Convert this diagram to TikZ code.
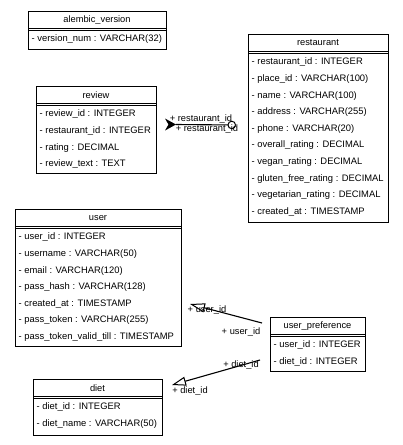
\documentclass[tikz,border=0pt]{standalone}
\usepackage{fontspec}
\setmainfont{Liberation Sans}
\usetikzlibrary{arrows.meta}
\begin{document}
\begin{tikzpicture}[x=1pt,y=-1pt,
  tbl/.style={draw, line width=1.1pt, rectangle, anchor=north west, inner sep=0pt},
  hdr/.style={font=\fontsize{9.3}{11}\selectfont, inner sep=0pt},
  fld/.style={font=\fontsize{9.4}{11}\selectfont, inner sep=0pt, anchor=west},
  lbl/.style={font=\fontsize{9.3}{11}\selectfont, inner sep=0pt},
  conn/.style={line width=1.1pt},
  sep/.style={line width=0.9pt}]
\useasboundingbox (0,0) rectangle (403,445);

% table: name, left, top, width, height, title, fields
\def\Tbl#1#2#3#4#5#6#7{%
  \node[tbl, minimum width=#4pt, minimum height=#5pt] (#1) at (#2,#3) {};
  \node[hdr] (#1-h) at (#2+#4/2,#3+9) {#6};
  \draw[sep] (#2,#3+17) -- ++(#4,0);
  \draw[sep] (#2,#3+19.5) -- ++(#4,0);
  \foreach \f [count=\i] in {#7} {
    \node[fld] (#1-\i) at (#2+3.5, #3+28.5+16.6*\i-16.6) {- \f};
  }%
}

\Tbl{alembic}{28}{11}{138}{38}{alembic\_version}%
  {version\_num : VARCHAR(32)}
\Tbl{review}{36}{86}{120}{87}{review}%
  {review\_id : INTEGER, restaurant\_id : INTEGER, rating : DECIMAL, review\_text : TEXT}
\Tbl{restaurant}{248}{34}{140}{188}{restaurant}%
  {restaurant\_id : INTEGER, place\_id : VARCHAR(100), name : VARCHAR(100),
   address : VARCHAR(255), phone : VARCHAR(20), overall\_rating : DECIMAL,
   vegan\_rating : DECIMAL, gluten\_free\_rating : DECIMAL,
   vegetarian\_rating : DECIMAL, created\_at : TIMESTAMP}
\Tbl{user}{15}{209}{166}{137}{user}%
  {user\_id : INTEGER, username : VARCHAR(50), email : VARCHAR(120),
   pass\_hash : VARCHAR(128), created\_at : TIMESTAMP, pass\_token : VARCHAR(255),
   pass\_token\_valid\_till : TIMESTAMP}
\Tbl{userpref}{270}{317}{95}{54}{user\_preference}%
  {user\_id : INTEGER, diet\_id : INTEGER}
\Tbl{diet}{33}{379}{129}{56}{diet}%
  {diet\_id : INTEGER, diet\_name : VARCHAR(50)}

% review -- restaurant
\coordinate (rvA) at (176,124.5);
\coordinate (rsA) at (236,125);
\draw[conn, -{Circle[open, length=8.5pt, line width=1pt]}] (rvA) -- (rsA);
\fill (rvA) -- ++(-11,-6) -- ++(3.5,6) -- ++(-3.5,6) -- cycle;
\node[lbl] (rv-l1) at (201,119.5) {+ restaurant\_id};
\node[lbl] (rv-l2) at (207,129) {+ restaurant\_id};

% user_preference -- user
\coordinate (upU) at (262,323);
\coordinate (usU) at (190,304);
\draw[conn, -{Triangle[open, length=15pt, width=9pt, line width=1pt]}] (upU) -- (usU);
\node[lbl] (up-l1) at (207,310) {+ user\_id};
\node[lbl] (up-l2) at (241,332) {+ user\_id};

% user_preference -- diet
\coordinate (upD) at (260,360);
\coordinate (dtD) at (172,385);
\draw[conn, -{Triangle[open, length=14pt, width=9pt, line width=1pt]}] (upD) -- (dtD);
\node[lbl] (ud-l1) at (241,365.5) {+ diet\_id};
\node[lbl] (ud-l2) at (190,391) {+ diet\_id};
\end{tikzpicture}
\end{document}
